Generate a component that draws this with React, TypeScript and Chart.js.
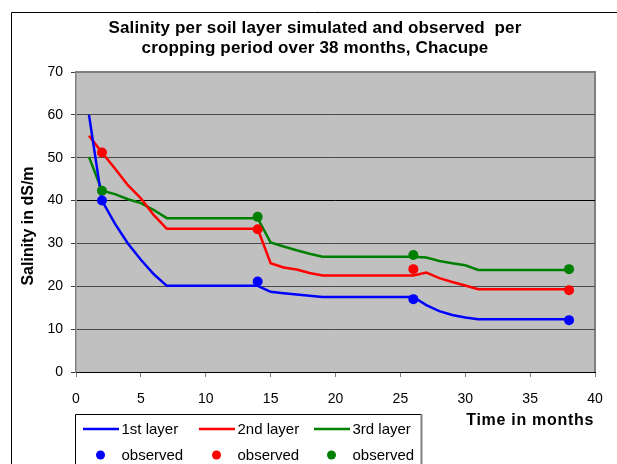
import React, { useEffect, useRef } from "react";
import { Chart, registerables } from "chart.js";

Chart.register(...registerables);

const titleLines = [
  "Salinity per soil layer simulated and observed  per",
  "cropping period over 38 months, Chacupe",
];
const xAxisTitle = "Time in months";
const yAxisTitle = "Salinity in dS/m";

const months = [
  1, 2, 3, 4, 5, 6, 7, 8, 9, 10, 11, 12, 13, 14, 15, 16, 17, 18, 19, 20,
  21, 22, 23, 24, 25, 26, 27, 28, 29, 30, 31, 32, 33, 34, 35, 36, 37, 38,
];
const layer1 = [
  60, 40, 34.6, 30, 26.2, 22.8, 20.1, 20.1, 20.1, 20.1, 20.1, 20.1, 20.1, 20.1,
  18.7, 18.4, 18.1, 17.8, 17.5, 17.5, 17.5, 17.5, 17.5, 17.5, 17.5, 17.5,
  15.6, 14.2, 13.3, 12.7, 12.3, 12.3, 12.3, 12.3, 12.3, 12.3, 12.3, 12.3,
];
const layer2 = [
  55.1, 51.2, 47.5, 43.6, 40.5, 36.6, 33.4, 33.4, 33.4, 33.4, 33.4, 33.4, 33.4, 33.4,
  25.4, 24.4, 23.9, 23.1, 22.5, 22.5, 22.5, 22.5, 22.5, 22.5, 22.5, 22.5,
  23.2, 21.9, 21.0, 20.2, 19.3, 19.3, 19.3, 19.3, 19.3, 19.3, 19.3, 19.3,
];
const layer3 = [
  50.2, 42.3, 41.5, 40.3, 39.4, 37.8, 35.9, 35.9, 35.9, 35.9, 35.9, 35.9, 35.9, 35.9,
  30.2, 29.3, 28.4, 27.6, 26.9, 26.9, 26.9, 26.9, 26.9, 26.9, 26.9, 26.9,
  26.7, 25.9, 25.4, 24.9, 23.8, 23.8, 23.8, 23.8, 23.8, 23.8, 23.8, 23.8,
];

const obsMonths = [2, 14, 26, 38];
const obs1 = [40, 21.1, 17.0, 12.1];
const obs2 = [51.2, 33.3, 24.0, 19.1];
const obs3 = [42.3, 36.2, 27.3, 24.0];

const seriesLabels = ["1st layer", "2nd layer", "3rd layer"];
const obsLabel = "observed";
const colors = ["#0000FF", "#FF0000", "#008000"];

const FONT = "'Liberation Sans', Arial, sans-serif";

const toXY = (xs: number[], ys: number[]) => xs.map((x, i) => ({ x, y: ys[i] }));

const decorPlugin = {
  id: "decor",
  beforeDraw(chart: any) {
    const { ctx, chartArea } = chart;
    const { left, top, right, bottom } = chartArea;
    ctx.save();
    ctx.fillStyle = "#ffffff";
    ctx.fillRect(0, 0, chart.width, chart.height);
    // outer frame
    ctx.strokeStyle = "#000";
    ctx.lineWidth = 1;
    ctx.beginPath();
    ctx.moveTo(11.5, chart.height + 2);
    ctx.lineTo(11.5, 12.5);
    ctx.lineTo(chart.width + 2, 12.5);
    ctx.stroke();
    // plot area
    ctx.fillStyle = "#C0C0C0";
    ctx.fillRect(left, top, right - left, bottom - top);
    ctx.strokeStyle = "#808080";
    ctx.lineWidth = 2;
    ctx.beginPath();
    ctx.moveTo(left, top);
    ctx.lineTo(right, top);
    ctx.lineTo(right, bottom);
    ctx.stroke();
    ctx.restore();
  },
  afterDraw(chart: any) {
    const { ctx } = chart;
    ctx.save();
    ctx.fillStyle = "#000";
    ctx.textAlign = "center";
    ctx.textBaseline = "middle";
    ctx.font = `bold 17px ${FONT}`;
    (ctx as any).letterSpacing = "0.15px";
    ctx.fillText(titleLines[0], 315, 28);
    ctx.fillText(titleLines[1], 315, 48);
    (ctx as any).letterSpacing = "0px";

    // y axis title
    ctx.save();
    ctx.translate(29, 226);
    ctx.rotate(-Math.PI / 2);
    ctx.font = `bold 16px ${FONT}`;
    ctx.fillText(yAxisTitle, 0, 0);
    ctx.restore();

    // x axis title
    ctx.font = `bold 16px ${FONT}`;
    (ctx as any).letterSpacing = "0.7px";
    ctx.textAlign = "right";
    ctx.fillText(xAxisTitle, 594, 421);
    (ctx as any).letterSpacing = "0px";

    // legend box
    ctx.strokeStyle = "#000";
    ctx.lineWidth = 1;
    ctx.beginPath();
    ctx.moveTo(75.5, chart.height + 2);
    ctx.lineTo(75.5, 414.5);
    ctx.lineTo(421.5, 414.5);
    ctx.stroke();
    ctx.strokeStyle = "#808080";
    ctx.lineWidth = 2;
    ctx.beginPath();
    ctx.moveTo(421.5, 414.5);
    ctx.lineTo(421.5, chart.height + 2);
    ctx.stroke();

    const colX = [83, 199, 314];
    const ds = chart.data.datasets;
    ctx.font = `15px ${FONT}`;
    ctx.textAlign = "left";
    for (let i = 0; i < 3; i++) {
      const lineDs = ds[i];
      const obsDs = ds[i + 3];
      ctx.strokeStyle = lineDs.borderColor;
      ctx.lineWidth = 2.5;
      ctx.beginPath();
      ctx.moveTo(colX[i], 429);
      ctx.lineTo(colX[i] + 36, 429);
      ctx.stroke();
      ctx.fillStyle = "#000";
      ctx.fillText(lineDs.label, colX[i] + 38.5, 430);
      ctx.fillStyle = obsDs.backgroundColor;
      ctx.beginPath();
      ctx.arc(colX[i] + 17.5, 455, 4.5, 0, Math.PI * 2);
      ctx.fill();
      ctx.fillStyle = "#000";
      ctx.fillText(obsDs.label, colX[i] + 38.5, 456);
    }
    ctx.restore();
  },
};

export default function App() {
  const canvasRef = useRef<HTMLCanvasElement | null>(null);

  useEffect(() => {
    if (!canvasRef.current) return;
    const lineSets = [layer1, layer2, layer3].map((vals, i) => ({
      type: "line" as const,
      label: seriesLabels[i],
      data: toXY(months, vals),
      borderColor: colors[i],
      backgroundColor: colors[i],
      borderWidth: 2.5,
      pointRadius: 0,
      tension: 0,
      order: 2,
    }));
    const obsSets = [obs1, obs2, obs3].map((vals, i) => ({
      type: "scatter" as const,
      label: obsLabel,
      data: toXY(obsMonths, vals),
      borderColor: colors[i],
      backgroundColor: colors[i],
      pointRadius: 5,
      pointBorderWidth: 0,
      showLine: false,
      order: 1,
    }));

    const chart = new Chart(canvasRef.current, {
      type: "line",
      data: { datasets: [...lineSets, ...obsSets] as any },
      options: {
        animation: false,
        responsive: false,
        devicePixelRatio: 1,
        layout: { padding: { left: 0, top: 72, right: 22, bottom: 0 } },
        plugins: {
          legend: { display: false },
          title: { display: false },
          tooltip: { enabled: false },
        },
        scales: {
          x: {
            type: "linear",
            min: 0,
            max: 40,
            afterFit: (scale: any) => {
              scale.height = 92;
            },
            ticks: {
              stepSize: 5,
              color: "#000",
              font: { family: FONT, size: 14 },
              padding: 14,
              maxRotation: 0,
            },
            grid: {
              drawOnChartArea: false,
              drawTicks: true,
              tickLength: 5,
              tickColor: "#808080",
            },
            border: { color: "#000", width: 1 },
          },
          y: {
            type: "linear",
            min: 0,
            max: 70,
            afterFit: (scale: any) => {
              scale.width = 76;
            },
            ticks: {
              stepSize: 10,
              color: "#000",
              font: { family: FONT, size: 14 },
              padding: 8,
            },
            grid: {
              drawTicks: true,
              tickLength: 5,
              tickColor: "#404040",
              color: (c: any) => {
                const v = c.tick ? c.tick.value : null;
                if (v === 40) return "#000";
                if (v === 70) return "#808080";
                return "#4a4a4a";
              },
              lineWidth: 1,
            },
            border: { color: "#808080", width: 1.5 },
          },
        },
      },
      plugins: [decorPlugin],
    });
    return () => chart.destroy();
  }, []);

  return (
    <div style={{ position: "absolute", left: 0, top: 0, width: 617, height: 464 }}>
      <canvas ref={canvasRef} width={617} height={464} style={{ width: 617, height: 464 }} />
    </div>
  );
}
